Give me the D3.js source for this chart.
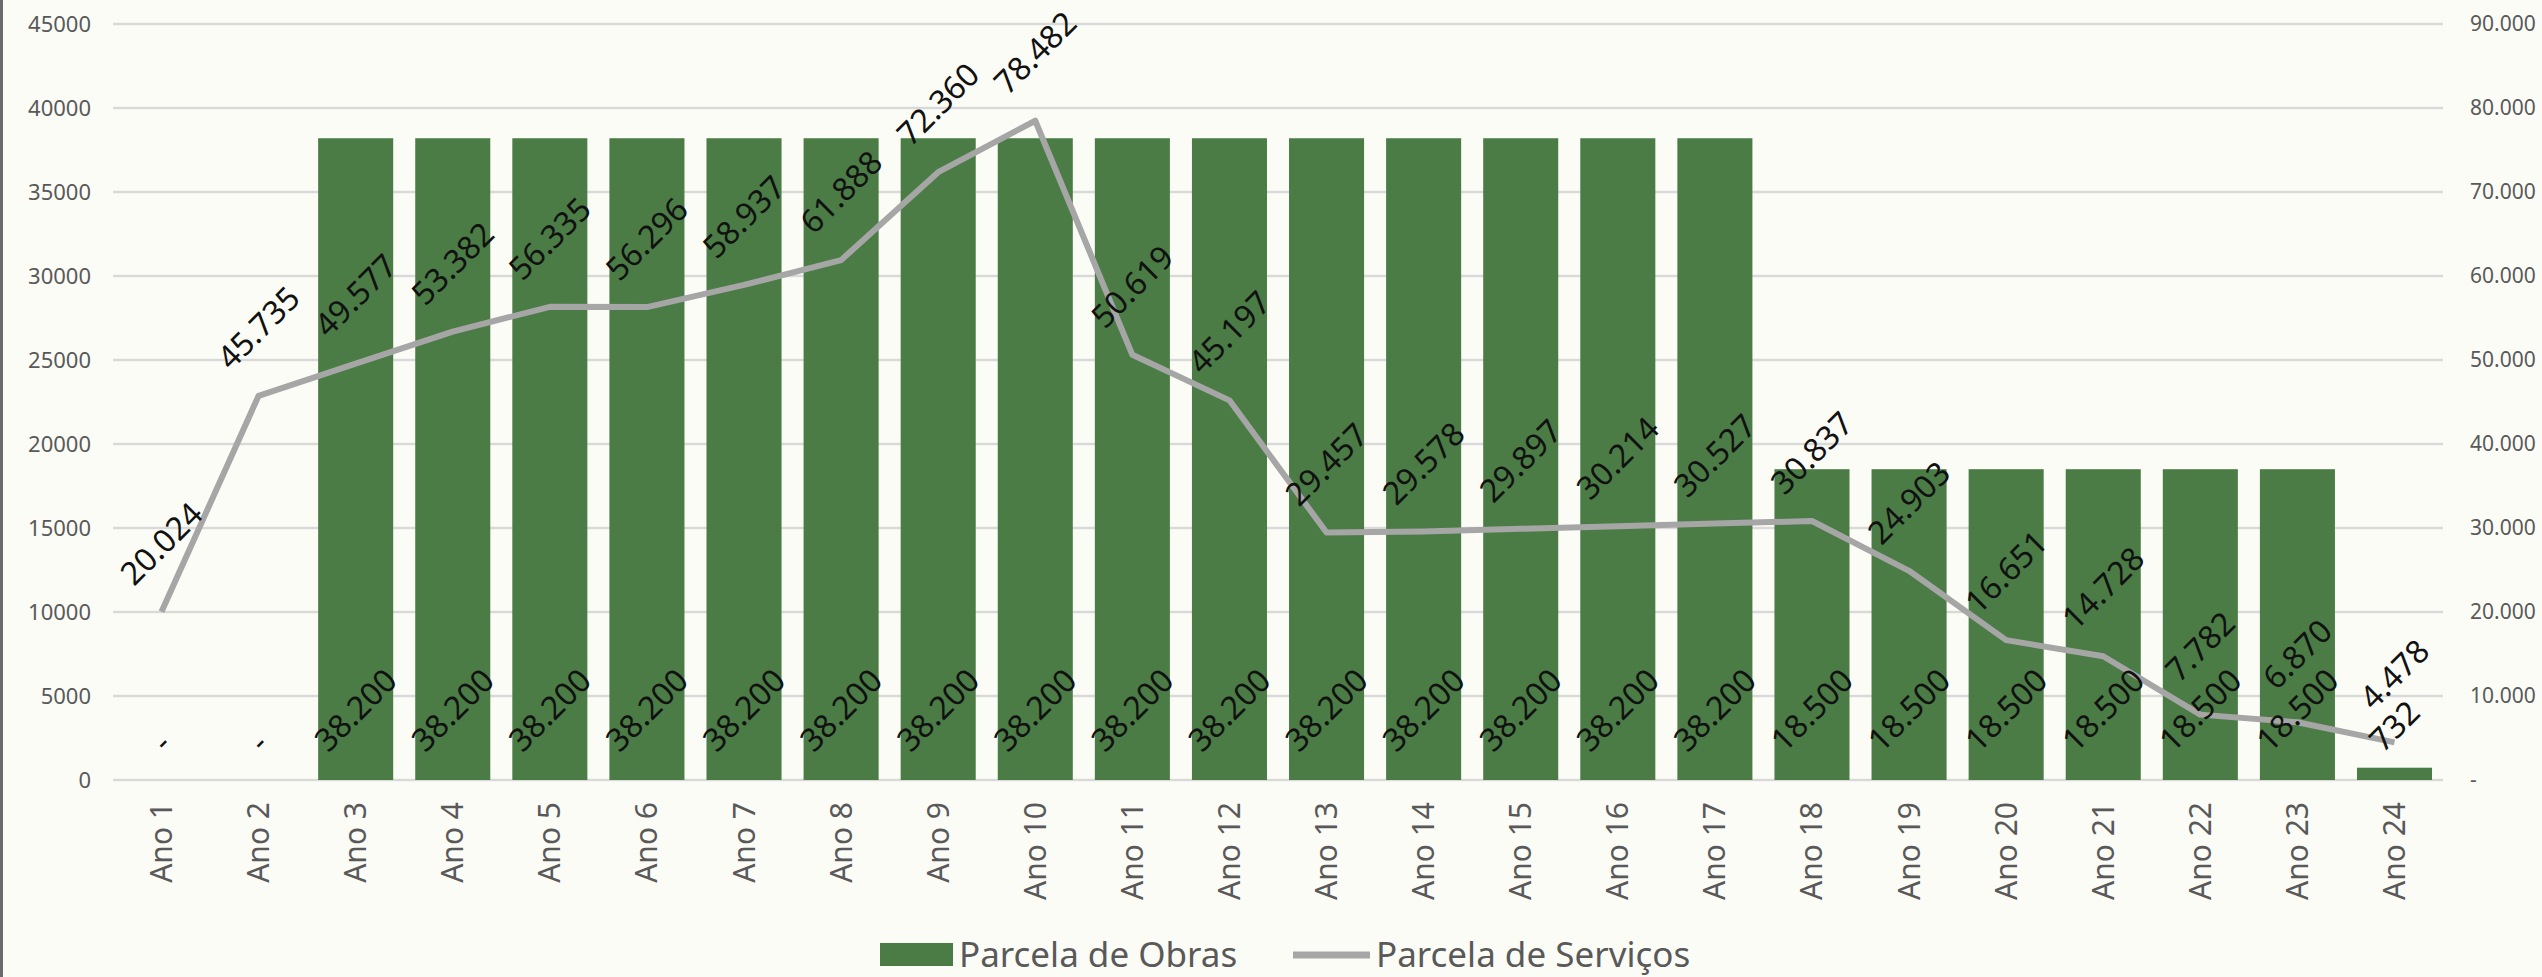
<!DOCTYPE html>
<html>
<head>
<meta charset="utf-8">
<script src="https://cdn.jsdelivr.net/npm/d3@7"></script>
<style>
  html, body { margin: 0; padding: 0; background: #fcfcf7; }
  svg { display: block; }
</style>
</head>
<body>
<div id="chart"></div>
<script>
// Dados
const anos = d3.range(1, 25).map(i => "Ano " + i);
const obras = [0, 0, 38200, 38200, 38200, 38200, 38200, 38200, 38200, 38200,
  38200, 38200, 38200, 38200, 38200, 38200, 38200, 18500, 18500, 18500,
  18500, 18500, 18500, 732];
const servicos = [20024, 45735, 49577, 53382, 56335, 56296, 58937, 61888, 72360, 78482,
  50619, 45197, 29457, 29578, 29897, 30214, 30527, 30837, 24903, 16651,
  14728, 7782, 6870, 4478];
const ticksEsq = [0, 5000, 10000, 15000, 20000, 25000, 30000, 35000, 40000, 45000];
const ticksDir = [0, 10000, 20000, 30000, 40000, 50000, 60000, 70000, 80000, 90000];
const legenda = ["Parcela de Obras", "Parcela de Serviços"];

const width = 2542;
const height = 977;
const margin = { top: 24, right: 99, bottom: 197, left: 113 };
const corBarra = "#4b7c45";
const corLinha = "#a6a6a6";
const corTexto = "#595959";
const fonte = "'Noto Sans', 'Open Sans', sans-serif";

const svg = d3.select("#chart")
  .append("svg")
  .attr("width", width)
  .attr("height", height)
  .style("font-family", fonte);

svg.append("rect").attr("width", width).attr("height", height).attr("fill", "#fcfcf7");
// borda esquerda
svg.append("line")
  .attr("x1", 1.5).attr("x2", 1.5).attr("y1", 0).attr("y2", height)
  .attr("stroke", "#6b6b6b").attr("stroke-width", 3);

const x = d3.scaleBand()
  .domain(anos)
  .range([margin.left, width - margin.right])
  .paddingInner(0.227)
  .paddingOuter(0.113);

const yEsq = d3.scaleLinear()
  .domain([0, 45000])
  .range([height - margin.bottom, margin.top]);

const yDir = d3.scaleLinear()
  .domain([0, 90000])
  .range([height - margin.bottom, margin.top]);

// Grade
svg.append("g")
  .selectAll("line")
  .data(ticksEsq)
  .join("line")
  .attr("x1", margin.left)
  .attr("x2", width - margin.right)
  .attr("y1", d => yEsq(d))
  .attr("y2", d => yEsq(d))
  .attr("stroke", "#d9d9d9")
  .attr("stroke-width", 2.5);

// Eixo esquerdo
const eixoEsq = svg.append("g")
  .attr("transform", `translate(${margin.left},0)`)
  .call(d3.axisLeft(yEsq).tickValues(ticksEsq).tickSize(0).tickPadding(22).tickFormat(d => String(d)));
eixoEsq.select(".domain").remove();
eixoEsq.selectAll("text")
  .attr("fill", corTexto)
  .style("font-size", "22px")
  .style("font-family", fonte);

// Eixo direito
const fmt = d => d === 0 ? "-" : d3.format(",")(d).replace(/,/g, ".");
const eixoDir = svg.append("g")
  .attr("transform", `translate(${width - margin.right},0)`)
  .call(d3.axisRight(yDir).tickValues(ticksDir).tickSize(0).tickPadding(27).tickFormat(fmt));
eixoDir.select(".domain").remove();
eixoDir.selectAll("text")
  .attr("fill", corTexto)
  .style("font-size", "21px")
  .style("font-family", fonte);

// Eixo X
const eixoX = svg.append("g")
  .attr("transform", `translate(0,${height - margin.bottom})`)
  .call(d3.axisBottom(x).tickSize(0).tickPadding(0));
eixoX.select(".domain").remove();
eixoX.selectAll("text")
  .attr("fill", corTexto)
  .style("font-size", "30px")
  .style("font-family", fonte)
  .attr("text-anchor", "end")
  .attr("transform", "translate(0,22) rotate(-90)")
  .attr("dx", 0)
  .attr("dy", "0.35em")
  .attr("y", 0)
  .attr("x", 0);

// Barras
svg.append("g")
  .selectAll("rect")
  .data(anos)
  .join("rect")
  .attr("x", d => x(d))
  .attr("width", x.bandwidth())
  .attr("y", (d, i) => yEsq(obras[i]))
  .attr("height", (d, i) => yEsq(0) - yEsq(obras[i]))
  .attr("fill", corBarra);

// Linha
const linha = d3.line()
  .x((d, i) => x(anos[i]) + x.bandwidth() / 2)
  .y(d => yDir(d));

svg.append("path")
  .datum(servicos)
  .attr("fill", "none")
  .attr("stroke", corLinha)
  .attr("stroke-width", 6)
  .attr("stroke-linejoin", "round")
  .attr("d", linha);

// Rótulos
const fmtRot = d => d === 0 ? "-" : d3.format(",")(d).replace(/,/g, ".");
const tamRot = 32;

function rotulo(g, txt) {
  return g.append("text")
    .text(txt)
    .attr("text-anchor", "middle")
    .attr("dy", "0.35em")
    .attr("fill", "#111")
    .style("font-size", tamRot + "px")
    .style("font-family", fonte);
}

const gRot = svg.append("g");
anos.forEach((a, i) => {
  const cx = x(a) + x.bandwidth() / 2;
  // barra: base interna
  const t = rotulo(gRot, fmtRot(obras[i]));
  const L = t.node().getComputedTextLength();
  const meia = (L + tamRot * 0.75) * 0.3536;
  const cy = yEsq(0) - 26 - meia;
  t.attr("transform", `translate(${cx},${cy}) rotate(-45)`);
  // linha: acima
  const t2 = rotulo(gRot, fmtRot(servicos[i]));
  const py = yDir(servicos[i]);
  t2.attr("transform", `translate(${cx},${py - 68}) rotate(-45)`);
});

// Legenda
const leg = svg.append("g");
leg.append("rect")
  .attr("x", 880).attr("y", 943).attr("width", 73).attr("height", 23)
  .attr("fill", corBarra);
leg.append("text")
  .attr("x", 959).attr("y", 967)
  .attr("fill", corTexto)
  .style("font-size", "35px")
  .text(legenda[0]);
leg.append("line")
  .attr("x1", 1293).attr("x2", 1370).attr("y1", 955).attr("y2", 955)
  .attr("stroke", corLinha).attr("stroke-width", 7);
leg.append("text")
  .attr("x", 1376).attr("y", 967)
  .attr("fill", corTexto)
  .style("font-size", "35px")
  .text(legenda[1]);
</script>
</body>
</html>
